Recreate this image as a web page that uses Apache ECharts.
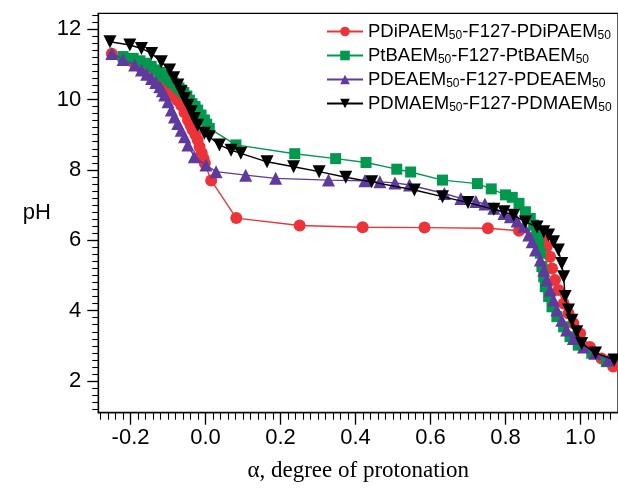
<!DOCTYPE html>
<html>
<head>
<meta charset="utf-8">
<script src="https://cdn.jsdelivr.net/npm/echarts@6/dist/echarts.min.js"></script>
<style>html,body{margin:0;padding:0;background:#fff;}#c{width:618px;height:489px;}</style>
</head>
<body>
<div id="c"></div>
<script>
// ---- data (alpha, pH) ----
var redData = [[-0.25,11.3],[-0.22,11.2],[-0.194,11.07],[-0.17,10.88],[-0.154,10.7],[-0.13,10.5],[-0.11,10.35],[-0.096,10.22],[-0.085,10.1],[-0.075,9.98],[-0.065,9.84],[-0.056,9.63],[-0.047,9.42],[-0.04,9.27],[-0.034,9.13],[-0.027,9.0],[-0.021,8.85],[-0.016,8.66],[-0.01,8.48],[-0.005,8.32],[-0.002,8.19],[0.015,7.7],[0.082,6.63],[0.251,6.42],[0.419,6.37],[0.584,6.36],[0.753,6.34],[0.836,6.27],[0.88,6.12],[0.9,5.98],[0.91,5.82],[0.919,5.53],[0.924,5.2],[0.932,4.87],[0.941,4.59],[0.955,4.2],[0.968,3.92],[0.981,3.64],[0.999,3.35],[1.025,2.97],[1.056,2.64],[1.087,2.41]];
var greenData = [[-0.22,11.22],[-0.193,11.17],[-0.175,11.1],[-0.158,11.03],[-0.145,10.94],[-0.131,10.84],[-0.122,10.77],[-0.114,10.7],[-0.105,10.62],[-0.096,10.55],[-0.087,10.48],[-0.078,10.4],[-0.071,10.33],[-0.065,10.27],[-0.058,10.2],[-0.05,10.1],[-0.043,9.98],[-0.036,9.88],[-0.028,9.8],[-0.021,9.7],[-0.012,9.56],[-0.003,9.42],[0.003,9.3],[0.01,9.18],[0.081,8.71],[0.238,8.46],[0.347,8.32],[0.428,8.21],[0.51,8.02],[0.547,7.94],[0.632,7.71],[0.725,7.61],[0.762,7.46],[0.8,7.29],[0.818,7.22],[0.836,7.05],[0.853,6.81],[0.866,6.62],[0.875,6.43],[0.884,6.2],[0.888,5.91],[0.893,5.63],[0.897,5.25],[0.902,4.96],[0.906,4.68],[0.915,4.4],[0.924,4.11],[0.937,3.83],[0.955,3.54],[0.972,3.26],[0.994,3.02],[1.03,2.79],[1.069,2.55]];
var purpleData = [[-0.25,11.31],[-0.22,11.14],[-0.189,10.98],[-0.171,10.84],[-0.157,10.72],[-0.144,10.6],[-0.133,10.48],[-0.122,10.36],[-0.115,10.25],[-0.109,10.13],[-0.1,9.94],[-0.091,9.7],[-0.083,9.5],[-0.074,9.32],[-0.065,9.13],[-0.056,8.94],[-0.047,8.71],[-0.03,8.37],[0.001,8.14],[0.028,7.95],[0.107,7.85],[0.187,7.76],[0.328,7.71],[0.425,7.69],[0.465,7.66],[0.505,7.63],[0.544,7.57],[0.637,7.33],[0.681,7.19],[0.721,7.1],[0.745,7.03],[0.769,6.91],[0.796,6.76],[0.813,6.67],[0.831,6.55],[0.849,6.4],[0.862,6.15],[0.871,5.96],[0.88,5.72],[0.893,5.44],[0.902,5.15],[0.91,4.87],[0.919,4.59],[0.928,4.3],[0.937,4.02],[0.95,3.73],[0.963,3.45],[0.981,3.21],[1.008,2.97],[1.038,2.79],[1.074,2.6]];
var blackData = [[-0.255,11.64],[-0.202,11.55],[-0.171,11.45],[-0.144,11.31],[-0.118,11.07],[-0.096,10.84],[-0.085,10.62],[-0.074,10.41],[-0.065,10.22],[-0.056,10.03],[-0.047,9.84],[-0.038,9.65],[-0.03,9.46],[-0.021,9.27],[-0.003,9.04],[0.01,8.94],[0.037,8.71],[0.068,8.56],[0.094,8.47],[0.164,8.23],[0.235,8.09],[0.303,7.95],[0.374,7.79],[0.443,7.66],[0.557,7.43],[0.632,7.24],[0.7,7.07],[0.769,6.88],[0.796,6.81],[0.822,6.71],[0.853,6.52],[0.884,6.38],[0.902,6.24],[0.915,6.15],[0.928,5.96],[0.941,5.72],[0.95,5.34],[0.955,4.96],[0.959,4.4],[0.968,4.02],[0.977,3.73],[0.99,3.4],[1.003,3.07],[1.04,2.8],[1.09,2.6]];

var seriesNames = ['PDiPAEM50-F127-PDiPAEM50','PtBAEM50-F127-PtBAEM50','PDEAEM50-F127-PDEAEM50','PDMAEM50-F127-PDMAEM50'];
var xMajorTicks = [-0.2,0.0,0.2,0.4,0.6,0.8,1.0];
var yMajorTicks = [2,4,6,8,10,12];

var xMinorTicks = [];
for (var i = -14; i <= 55; i++) { xMinorTicks.push(+(i*0.02).toFixed(2)); }
var yMinorTicks = [];
for (var j = 6; j <= 62; j++) { yMinorTicks.push(+(j*0.2).toFixed(1)); }

var XMIN = -0.286, XMAX = 1.1, YMIN = 1.1, YMAX = 12.45;
var FONT = 'Liberation Sans';

function richName(n){
  var m = n.match(/^(\w+?)50-F127-(\w+?)50$/);
  return '{a|' + m[1] + '}{s|50}{a|-F127-' + m[2] + '}{s|50}';
}

var chart = echarts.init(document.getElementById('c'), null, {renderer:'canvas'});
var axisLineStyle = {color:'#000', width:1.3};
chart.setOption({
  animation:false,
  backgroundColor:'#fff',
  grid:{left:98.3, top:13.3, width:523.5, height:399.4, show:true, borderColor:'#000', borderWidth:1.3, containLabel:false},
  legend:{
    orient:'vertical', left:321, top:16, itemWidth:36, itemHeight:12, itemGap:3,
    data:seriesNames,
    formatter:function(n){return richName(n);},
    textStyle:{fontFamily:FONT, fontSize:18.5, color:'#000', rich:{
      a:{fontFamily:FONT, fontSize:18.5, color:'#000', lineHeight:21},
      s:{fontFamily:FONT, fontSize:12, color:'#000', verticalAlign:'bottom', padding:[9,0,0,0], lineHeight:21}
    }}
  },
  xAxis:[
    {type:'value', position:'bottom', min:XMIN, max:XMAX, offset:0,
     axisLine:{show:true, onZero:false, lineStyle:axisLineStyle},
     axisTick:{show:true, customValues:xMajorTicks, length:12, lineStyle:{color:'#000', width:1.3}},
     axisLabel:{show:true, customValues:xMajorTicks, margin:14, fontFamily:FONT, fontSize:22, color:'#000',
       formatter:function(v){return v.toFixed(1);}},
     splitLine:{show:false},
     name:'α, degree of protonation', nameLocation:'middle', nameGap:47,
     nameTextStyle:{fontFamily:'Liberation Serif', fontSize:23, color:'#000'}},
    {type:'value', position:'bottom', min:XMIN, max:XMAX, offset:0,
     axisLine:{show:false, onZero:false},
     axisTick:{show:true, customValues:xMinorTicks, length:7, lineStyle:{color:'#000', width:1.1}},
     axisLabel:{show:false}, splitLine:{show:false}}
  ],
  yAxis:[
    {type:'value', position:'left', min:YMIN, max:YMAX, offset:0,
     axisLine:{show:true, onZero:false, lineStyle:axisLineStyle},
     axisTick:{show:true, customValues:yMajorTicks, length:11, lineStyle:{color:'#000', width:1.3}},
     axisLabel:{show:true, customValues:yMajorTicks, margin:17, fontFamily:FONT, fontSize:22, color:'#000'},
     splitLine:{show:false},
     name:'pH', nameLocation:'middle', nameRotate:0, nameGap:46,
     nameTextStyle:{fontFamily:FONT, fontSize:22, color:'#000'}},
    {type:'value', position:'left', min:YMIN, max:YMAX, offset:0,
     axisLine:{show:false, onZero:false},
     axisTick:{show:true, customValues:yMinorTicks, length:6, lineStyle:{color:'#000', width:1.1}},
     axisLabel:{show:false}, splitLine:{show:false}}
  ],
  series:[
    {name:seriesNames[0], type:'line', data:redData, symbol:'circle', symbolSize:12,
     itemStyle:{color:'#EE3338'}, lineStyle:{color:'#EE3338', width:1.4}, z:2},
    {name:seriesNames[1], type:'line', data:greenData, symbol:'rect', symbolSize:11,
     itemStyle:{color:'#00994E'}, lineStyle:{color:'#00994E', width:1.4}, z:3},
    {name:seriesNames[2], type:'line', data:purpleData, symbol:'triangle', symbolSize:13,
     itemStyle:{color:'#5F3A9E'}, lineStyle:{color:'#5F3A9E', width:1.4}, z:4},
    {name:seriesNames[3], type:'line', data:blackData, symbol:'triangle', symbolRotate:180, symbolSize:13,
     itemStyle:{color:'#000'}, lineStyle:{color:'#000', width:1.4}, z:5}
  ]
});
</script>
</body>
</html>
